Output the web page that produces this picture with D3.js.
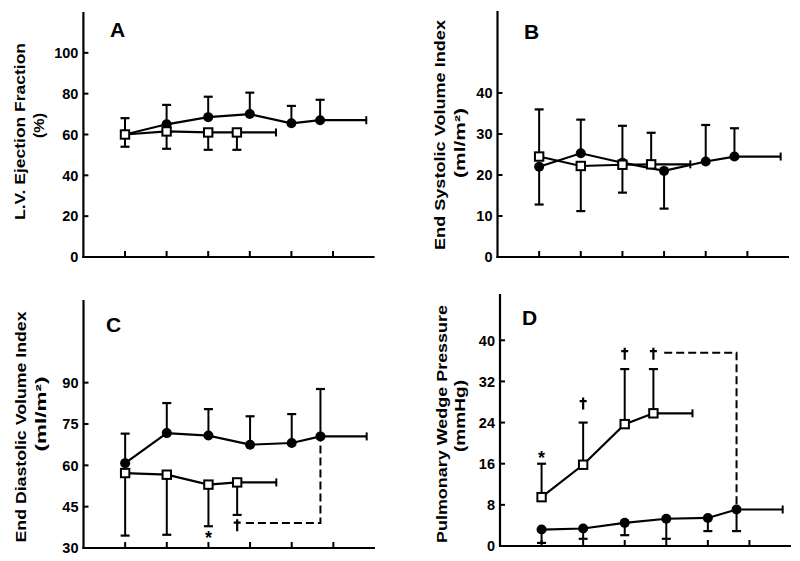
<!DOCTYPE html>
<html><head><meta charset="utf-8">
<script src="https://cdn.jsdelivr.net/npm/d3@7"></script>
<style>body{margin:0;background:#fff}svg{display:block}</style>
</head><body><svg id="c" width="800" height="561"></svg>
<script>
// ---------- data ----------
const xFilled = [1, 2, 3, 4, 5, 5.69];
const xOpen = [1, 2, 3, 3.69];
const xTicks = [1, 2, 3, 4, 5, 6];
const filledEnd = 6.8;
const openEnd = 4.63;

const aTicks = [0, 20, 40, 60, 80, 100];
const aFilled = [60, 65, 68.5, 70, 65.5, 67];
const aFilledUp = [68, 74.5, 78.5, 80.5, 74, 77];
const aFilledLow = [null, null, null, null, null, null];
const aOpen = [60, 61.5, 61, 61];
const aOpenUp = [null, null, null, null];
const aOpenLow = [54, 53, 52.5, 52.5];

const bTicks = [0, 10, 20, 30, 40];
const bFilled = [22, 25.3, 23, 21, 23.3, 24.5];
const bFilledUp = [null, 33.5, 32, null, 32.2, 31.4];
const bFilledLow = [12.8, null, null, 11.8, null, null];
const bOpen = [24.5, 22.2, 22.5, 22.6];
const bOpenUp = [36, null, null, 30.3];
const bOpenLow = [null, 11.2, 15.7, null];

const cTicks = [30, 45, 60, 75, 90];
const cFilled = [60.8, 71.7, 70.8, 67.5, 68.1, 70.5];
const cFilledUp = [71.5, 82.6, 80.4, 77.8, 78.6, 87.7];
const cFilledLow = [null, null, null, null, null, null];
const cOpen = [57.2, 56.6, 53, 53.8];
const cOpenUp = [null, null, null, null];
const cOpenLow = [34.5, 34.8, 37.9, 42];
const cSymX = [3, 3.69];
const cSymY = [35.2, 38.3];
const cSym = ["*", "†"];
const cDash = [[3.9, 39.1], [5.69, 39.1], [5.69, 70.5]];

const dTicks = [0, 8, 16, 24, 32, 40];
const dFilled = [3.2, 3.4, 4.5, 5.3, 5.45, 7.1];
const dFilledUp = [null, null, null, null, null, null];
const dFilledLow = [0.6, 1.4, 2.1, 1.4, 2.9, 2.9];
const dOpen = [9.5, 15.8, 23.7, 25.8];
const dOpenUp = [16, 24, 34.4, 34.4];
const dOpenLow = [null, null, null, null];
const dSymX = [1, 2, 3, 3.69];
const dSymY = [17.8, 27.7, 37.4, 37.4];
const dSym = ["*", "†", "†", "†"];
const dDash = [[3.95, 37.6], [5.69, 37.6], [5.69, 7.1]];

// ---------- layout ----------
const FONT = "'Liberation Sans', Arial, Helvetica, sans-serif";
const panels = [
  { letter: "A", lx: 110, ly: 37, xr: [83.4, 374.6], yr: [257, 12], yd: [0, 120], ticks: aTicks,
    t1: "L.V. Ejection Fraction", t1x: 25, t1y: 131.5, t1len: 177,
    t2: "(%)", t2x: 44, t2y: 125.5, t2len: 25,
    f: aFilled, fu: aFilledUp, fl: aFilledLow, o: aOpen, ou: aOpenUp, ol: aOpenLow },
  { letter: "B", lx: 524, ly: 39, xr: [497.5, 789], yr: [257, 11], yd: [0, 60], ticks: bTicks,
    t1: "End Systolic Volume Index", t1x: 445, t1y: 135, t1len: 230,
    t2: "(ml/m²)", t2x: 465, t2y: 143, t2len: 70,
    f: bFilled, fu: bFilledUp, fl: bFilledLow, o: bOpen, ou: bOpenUp, ol: bOpenLow },
  { letter: "C", lx: 106, ly: 332, xr: [83.5, 375], yr: [548, 300], yd: [30, 120], ticks: cTicks,
    t1: "End Diastolic Volume Index", t1x: 26, t1y: 427, t1len: 231,
    t2: "(ml/m²)", t2x: 46, t2y: 414, t2len: 75,
    f: cFilled, fu: cFilledUp, fl: cFilledLow, o: cOpen, ou: cOpenUp, ol: cOpenLow,
    symX: cSymX, symY: cSymY, sym: cSym, dash: cDash },
  { letter: "D", lx: 522, ly: 325, xr: [500, 791], yr: [546, 294], yd: [0, 49], ticks: dTicks,
    t1: "Pulmonary Wedge Pressure", t1x: 447, t1y: 424, t1len: 238,
    t2: "(mmHg)", t2x: 465, t2y: 416, t2len: 72,
    f: dFilled, fu: dFilledUp, fl: dFilledLow, o: dOpen, ou: dOpenUp, ol: dOpenLow,
    symX: dSymX, symY: dSymY, sym: dSym, dash: dDash }
];

const svg = d3.select("#c");
svg.append("rect").attr("width", 800).attr("height", 561).attr("fill", "#fff");

panels.forEach(p => {
  const g = svg.append("g");
  const x = d3.scaleLinear().domain([0, 7]).range(p.xr);
  const y = d3.scaleLinear().domain(p.yd).range(p.yr);
  const x0 = x(0), yb = y(p.yd[0]);

  // axes
  g.append("line").attr("x1", x0).attr("x2", x0).attr("y1", y(p.yd[1])).attr("y2", yb + 1)
    .attr("stroke", "#000").attr("stroke-width", 2.2);
  g.append("line").attr("x1", x0 - 1).attr("x2", x(7)).attr("y1", yb).attr("y2", yb)
    .attr("stroke", "#000").attr("stroke-width", 2.2);
  // y ticks (inward) and labels
  p.ticks.forEach(t => {
    if (t !== p.yd[0]) g.append("line").attr("x1", x0).attr("x2", x0 + 5).attr("y1", y(t)).attr("y2", y(t))
      .attr("stroke", "#000").attr("stroke-width", 2);
    g.append("text").attr("x", x0 - 5).attr("y", y(t)).attr("dy", "0.36em")
      .attr("text-anchor", "end").attr("font-family", FONT).attr("font-weight", "bold")
      .attr("font-size", 14.5).attr("fill", "#000").text(t);
  });
  // x ticks (inward)
  xTicks.forEach(t => {
    g.append("line").attr("x1", x(t)).attr("x2", x(t)).attr("y1", yb).attr("y2", yb - 6)
      .attr("stroke", "#000").attr("stroke-width", 2);
  });

  // panel letter
  g.append("text").attr("x", p.lx).attr("y", p.ly).attr("font-family", FONT)
    .attr("font-weight", "bold").attr("font-size", 21).attr("fill", "#000").text(p.letter);

  // axis titles
  [[p.t1, p.t1x, p.t1y, p.t1len], [p.t2, p.t2x, p.t2y, p.t2len]].forEach(([txt, tx, ty, len]) => {
    g.append("text").attr("transform", `translate(${tx},${ty}) rotate(-90)`)
      .attr("text-anchor", "middle").attr("font-family", FONT).attr("font-weight", "bold")
      .attr("font-size", 15).attr("fill", "#000")
      .attr("textLength", len).attr("lengthAdjust", "spacingAndGlyphs").text(txt);
  });

  const line = d3.line().x(d => x(d[0])).y(d => y(d[1]));
  const fPts = xFilled.map((v, i) => [v, p.f[i]]);
  const oPts = xOpen.map((v, i) => [v, p.o[i]]);

  // dashed significance line
  if (p.dash) {
    g.append("path").attr("d", line(p.dash)).attr("fill", "none").attr("stroke", "#000")
      .attr("stroke-width", 2).attr("stroke-dasharray", "8,4");
  }

  // series lines + extension
  [[fPts, filledEnd], [oPts, openEnd]].forEach(([pts, end]) => {
    const last = pts[pts.length - 1];
    g.append("path").attr("d", line(pts.concat([[end, last[1]]]))).attr("fill", "none")
      .attr("stroke", "#000").attr("stroke-width", 2.2);
    g.append("line").attr("x1", x(end)).attr("x2", x(end)).attr("y1", y(last[1]) - 4).attr("y2", y(last[1]) + 4)
      .attr("stroke", "#000").attr("stroke-width", 2);
  });

  // error bars
  function bars(xs, vals, ends) {
    xs.forEach((xv, i) => {
      const e = ends[i];
      if (e === null || e === undefined) return;
      g.append("line").attr("x1", x(xv)).attr("x2", x(xv)).attr("y1", y(vals[i])).attr("y2", y(e))
        .attr("stroke", "#000").attr("stroke-width", 2);
      g.append("line").attr("x1", x(xv) - 4.5).attr("x2", x(xv) + 4.5).attr("y1", y(e)).attr("y2", y(e))
        .attr("stroke", "#000").attr("stroke-width", 2.2);
    });
  }
  bars(xFilled, p.f, p.fu); bars(xFilled, p.f, p.fl);
  bars(xOpen, p.o, p.ou); bars(xOpen, p.o, p.ol);

  // markers
  g.selectAll(null).data(fPts).enter().append("circle")
    .attr("cx", d => x(d[0])).attr("cy", d => y(d[1])).attr("r", 5).attr("fill", "#000");
  g.selectAll(null).data(oPts).enter().append("rect")
    .attr("x", d => x(d[0]) - 4.2).attr("y", d => y(d[1]) - 4.2).attr("width", 8.4).attr("height", 8.4)
    .attr("fill", "#fff").attr("stroke", "#000").attr("stroke-width", 2);

  // significance symbols
  if (p.sym) {
    p.sym.forEach((s, i) => {
      const cx = x(p.symX[i]), cy = y(p.symY[i]);
      if (s === "*") {
        g.append("text").attr("x", cx).attr("y", cy + 10)
          .attr("text-anchor", "middle").attr("font-family", FONT).attr("font-weight", "bold")
          .attr("font-size", 18).attr("fill", "#000").text(s);
      } else {
        // dagger drawn as strokes
        g.append("path").attr("d", `M${cx},${cy - 6}V${cy + 6}M${cx - 3.5},${cy - 2.5}H${cx + 3.5}`)
          .attr("fill", "none").attr("stroke", "#000").attr("stroke-width", 2.2);
      }
    });
  }
});
</script></body></html>
